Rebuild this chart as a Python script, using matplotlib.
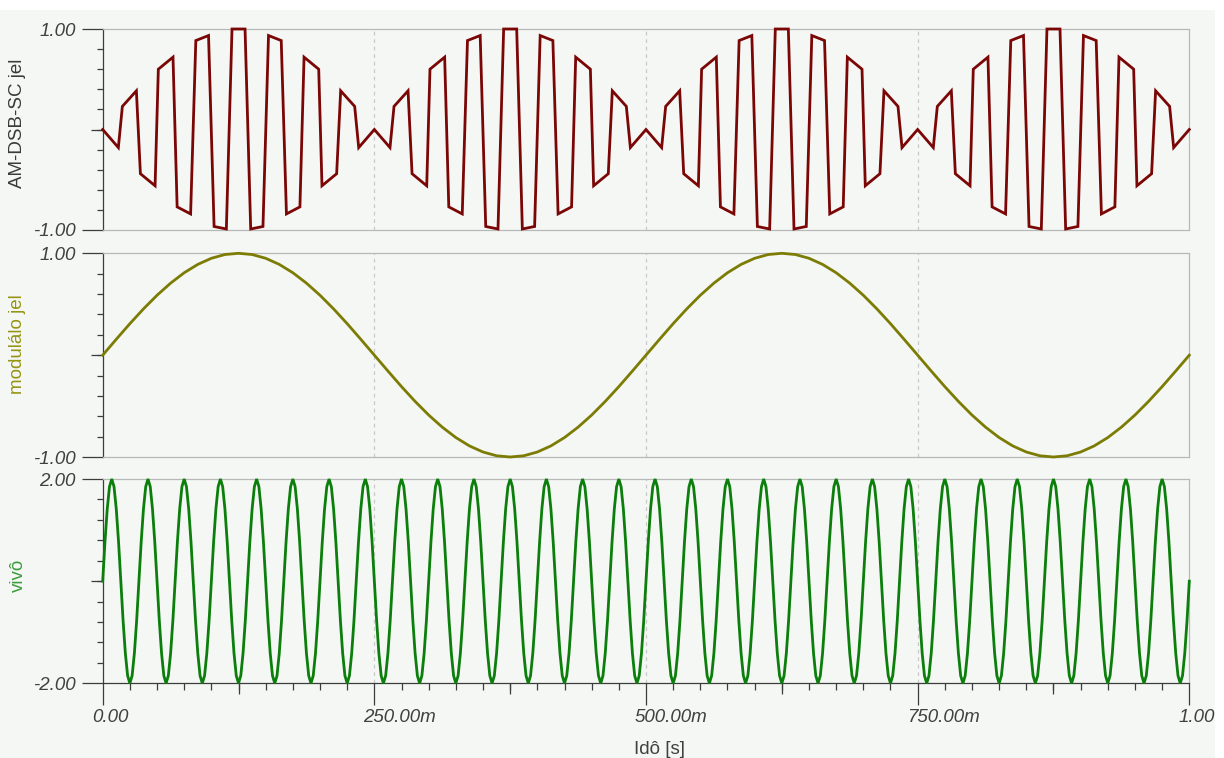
import numpy as np
import matplotlib
matplotlib.use("Agg")
import matplotlib.pyplot as plt
from matplotlib.transforms import ScaledTranslation
from matplotlib.patches import Rectangle
from matplotlib.markers import TICKLEFT, TICKDOWN

# ---------------------------------------------------------------------------
# Signals
# ---------------------------------------------------------------------------
# AM-DSB-SC output: polyline vertices of one 250 ms lobe (time [s], value)
lobe_times = [0.0000, 0.0144, 0.0181, 0.0310, 0.0347, 0.0482, 0.0512, 0.0647,
              0.0685, 0.0809, 0.0857, 0.0974, 0.1025, 0.1138, 0.1190, 0.1310,
              0.1362, 0.1475, 0.1526, 0.1643, 0.1691, 0.1815, 0.1853, 0.1988,
              0.2018, 0.2153, 0.2190, 0.2319, 0.2356, 0.2500]
lobe_values = [0.00, -0.18, 0.23, 0.385, -0.44, -0.56, 0.60, 0.72,
               -0.77, -0.84, 0.885, 0.935, -0.965, -0.99, 1.00, 1.00,
               -0.99, -0.965, 0.935, 0.885, -0.84, -0.77, 0.72, 0.60,
               -0.56, -0.44, 0.385, 0.23, -0.18, 0.00]
n_lobes = 4
lobe_period = 0.25

# modulating signal: one 500 ms period sampled every 12.5 ms
modulating_cycle = [0.000, 0.156, 0.309, 0.454, 0.588, 0.707, 0.809, 0.891,
                    0.951, 0.988, 1.000, 0.988, 0.951, 0.891, 0.809, 0.707,
                    0.588, 0.454, 0.309, 0.156, 0.000, -0.156, -0.309, -0.454,
                    -0.588, -0.707, -0.809, -0.891, -0.951, -0.988, -1.000,
                    -0.988, -0.951, -0.891, -0.809, -0.707, -0.588, -0.454,
                    -0.309, -0.156]
modulating_cycles = 2

# carrier: one period (1/30 s) in 16 samples
carrier_cycle = [0.00, 0.77, 1.41, 1.85, 2.00, 1.85, 1.41, 0.77,
                 0.00, -0.77, -1.41, -1.85, -2.00, -1.85, -1.41, -0.77]
carrier_cycles = 30

x_ticks = [0.0, 0.25, 0.5, 0.75, 1.0]
x_tick_labels = ["0.00", "250.00m", "500.00m", "750.00m", "1.00"]
x_medium_ticks = [0.125, 0.375, 0.625, 0.875]

labels = ["AM-DSB-SC jel", "modulálo jel", "vivô"]
x_label = "Idô [s]"

# ---------------------------------------------------------------------------
# Assemble the time series
# ---------------------------------------------------------------------------
am_t = np.concatenate([np.asarray(lobe_times[:-1]) + k * lobe_period
                       for k in range(n_lobes)]
                      + [[lobe_times[-1] + (n_lobes - 1) * lobe_period]])
am_v = np.concatenate([lobe_values[:-1]] * n_lobes + [[lobe_values[-1]]])

mod_v = np.append(np.tile(modulating_cycle, modulating_cycles), modulating_cycle[0])
mod_t = np.linspace(0.0, 1.0, len(mod_v))

car_v = np.append(np.tile(carrier_cycle, carrier_cycles), carrier_cycle[0])
car_t = np.linspace(0.0, 1.0, len(car_v))

# ---------------------------------------------------------------------------
# Figure
# ---------------------------------------------------------------------------
W, H = 1224, 758
BG = "#f4f7f4"
DARK = "#3c3c3c"
FRAME = "#b8b8b8"
FS = 13.5

plt.rcParams["font.family"] = ["Liberation Sans", "DejaVu Sans"]

fig = plt.figure(figsize=(W / 100, H / 100), dpi=100, facecolor=BG)
fig.patches.append(Rectangle((0, 1 - 10 / H), 1, 10 / H, transform=fig.transFigure,
                             facecolor="white", edgecolor="none", zorder=-1))
fig.patches.append(Rectangle((1215 / W, 0), 9 / W, 1, transform=fig.transFigure,
                             facecolor="white", edgecolor="none", zorder=-1))

left, right = 102.7, 1189.3
panels = [
    # (top px, bottom px, t, values, ylim, minor step, line colour, label colour, label centre px)
    (29.0, 230.0, am_t, am_v, (-1.0, 1.0), 0.2, "#7a0606", "#3a3a3a", 123),
    (253.3, 457.0, mod_t, mod_v, (-1.0, 1.0), 0.2, "#7c7c04", "#959512", 344),
    (479.0, 683.3, car_t, car_v, (-2.0, 2.0), 0.4, "#0b7e0b", "#3c9c3c", 575),
]

axes = []
for i, (top, bot, t, v, ylim, step, lc, tc, lab_y) in enumerate(panels):
    ax = fig.add_axes([left / W, 1 - bot / H, (right - left) / W, (bot - top) / H])
    axes.append(ax)
    ax.set_facecolor(BG)
    ax.set_xlim(0, 1)
    ax.set_ylim(*ylim)

    last = i == len(panels) - 1
    for side in ("top", "right"):
        ax.spines[side].set_color(FRAME)
        ax.spines[side].set_linewidth(0.9)
    ax.spines["left"].set_color(DARK)
    ax.spines["left"].set_linewidth(0.9)
    ax.spines["bottom"].set_color(DARK if last else FRAME)
    ax.spines["bottom"].set_linewidth(0.9)

    # dashed vertical grid
    for xg in (0.25, 0.5, 0.75):
        ax.axvline(xg, color="#c9c9c9", lw=0.9, ls=(0, (3, 3)), zorder=0.5)

    ax.plot(t, v, color=lc, lw=2.0, clip_on=False, zorder=3, solid_joinstyle="miter")

    # y ticks
    lo, hi = ylim
    ax.set_yticks([lo, hi], [f"{lo:.2f}", f"{hi:.2f}"], fontstyle="italic")
    ax.set_yticks(np.linspace(lo, hi, int(round((hi - lo) / step)) + 1), minor=True)
    ax.tick_params(axis="y", which="major", direction="out", length=15.1, width=0.9,
                   color=DARK, pad=4.3, labelsize=FS, labelcolor="#404040")
    ax.tick_params(axis="y", which="minor", direction="out", length=4.3, width=0.9,
                   color=DARK)
    ax.plot([0], [0.5 * (lo + hi)], marker=TICKLEFT, markersize=8.6, mew=0.9,
            color=DARK, transform=ax.get_yaxis_transform(), clip_on=False)

    fig.text(18 / W, 1 - lab_y / H, labels[i], rotation=90, ha="center", va="center",
             fontsize=FS, color=tc)

    if last:
        ax.set_xticks(x_ticks, x_tick_labels, fontstyle="italic", ha="left")
        ax.set_xticks(np.linspace(0, 1, 41), minor=True)
        ax.tick_params(axis="x", which="major", direction="out", length=15.8, width=0.9,
                       color=DARK, pad=3.0, labelsize=FS, labelcolor="#404040")
        ax.tick_params(axis="x", which="minor", direction="out", length=5.0, width=0.9,
                       color=DARK)
        shift = ScaledTranslation(-11 / 100, 0, fig.dpi_scale_trans)
        for lbl in ax.get_xticklabels():
            lbl.set_transform(lbl.get_transform() + shift)
        for xm in x_medium_ticks:
            ax.plot([xm], [0], marker=TICKDOWN, markersize=7.9, mew=0.9, color=DARK,
                    transform=ax.get_xaxis_transform(), clip_on=False)
    else:
        ax.set_xticks([])
        ax.tick_params(axis="x", which="both", bottom=False, labelbottom=False)

fig.text(659 / W, 1 - 749 / H, x_label, ha="center", va="center", fontsize=FS,
         color="#404040")

fig.savefig("out.png", dpi=100, facecolor=fig.get_facecolor())
